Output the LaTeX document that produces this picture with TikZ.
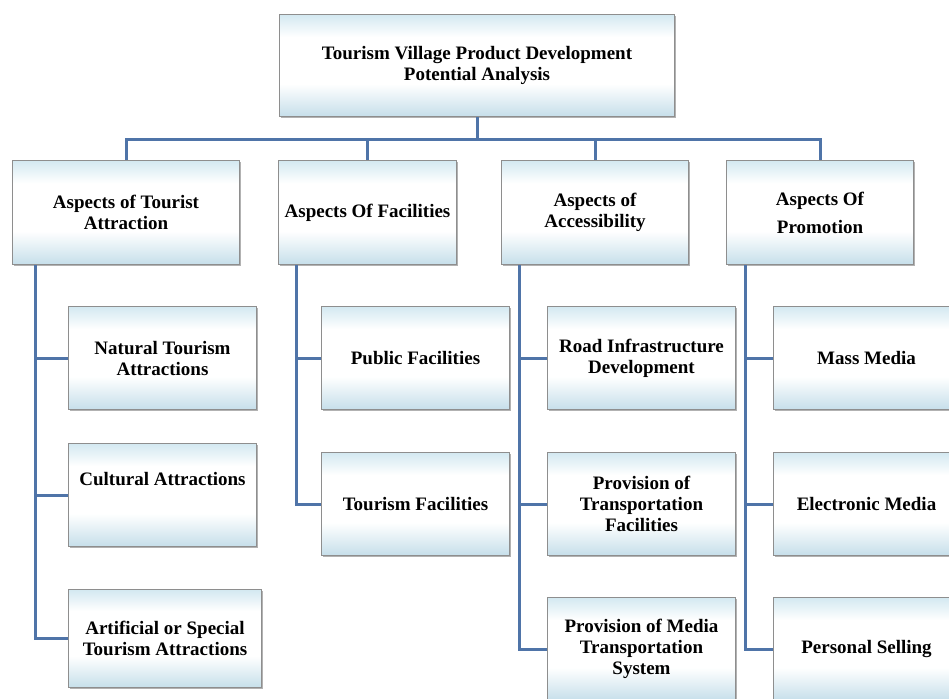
\documentclass[tikz,border=0pt]{standalone}
\usepackage{fontspec}
\setmainfont{Liberation Serif}
\usetikzlibrary{positioning,shadows}

\definecolor{linkblue}{HTML}{4F74A8}
\definecolor{boxtop}{HTML}{D3E8F1}
\definecolor{boxlow}{HTML}{C6DFEA}
\definecolor{boxline}{HTML}{8E8E8E}
\pgfdeclareverticalshading{boxfill}{100bp}{color(0bp)=(boxlow); color(25bp)=(boxlow);
  color(41bp)=(white); color(64bp)=(white); color(75bp)=(boxtop); color(100bp)=(boxtop)}

\tikzset{
  box/.style={draw=boxline, line width=1pt, shade, shading=boxfill,
    drop shadow={shadow xshift=1.5pt, shadow yshift=-1.5pt, fill=black!60, opacity=0.5},
    anchor=north west, align=center, inner sep=2pt,
    font=\bfseries\fontsize{19}{21}\selectfont},
  sub/.style={box, minimum width=188pt, minimum height=103pt},
  link/.style={draw=linkblue, line width=3pt}
}

\begin{document}
\begin{tikzpicture}[x=1pt, y=-1pt]
    \useasboundingbox (0,0) rectangle (949,698);
    \clip (0,0) rectangle (949,698);

    % Root
    \node[box, minimum width=395pt, minimum height=102pt] (top) at (279,14)
        {Tourism Village Product Development\\Potential Analysis};

    % Aspects
    \node[box, minimum width=227pt, minimum height=104pt] (A1) at (12,160) {Aspects of Tourist\\Attraction};
    \node[box, minimum width=178pt, minimum height=104pt] (A2) at (278,160) {Aspects Of Facilities};
    \node[box, minimum width=187pt, minimum height=104pt] (A3) at (501,160) {Aspects of\\Accessibility};
    \node[box, minimum width=187pt, minimum height=104pt] (A4) at (726,160) {Aspects Of\\[7pt]Promotion};

    % Tourist attraction
    \node[sub] (B1) at (68,306) {Natural Tourism\\Attractions};
    \node[sub, text depth=32pt] (B2) at (68,443) {Cultural Attractions};
    \node[sub, minimum width=193pt, minimum height=98pt] (B3) at (68,589) {Artificial or Special\\Tourism Attractions};

    % Facilities
    \node[sub] (C1) at (321,306) {Public Facilities};
    \node[sub] (C2) at (321,452) {Tourism Facilities};

    % Accessibility
    \node[sub] (D1) at (547,306) {Road Infrastructure\\Development};
    \node[sub] (D2) at (547,452) {Provision of\\Transportation\\Facilities};
    \node[sub] (D3) at (547,597) {Provision of Media\\Transportation\\System};

    % Promotion
    \node[sub, minimum width=186pt] (E1) at (773,306) {Mass Media};
    \node[sub, minimum width=186pt] (E2) at (773,452) {Electronic Media};
    \node[sub, minimum width=186pt] (E3) at (773,597) {Personal Selling};

    % Links
    \coordinate (bus) at ([yshift=-22pt]top.south);
    \draw[link] (top.south) -- (bus);
    \foreach \a in {A1,A2,A3,A4}
        \draw[link] (bus) -| (\a.north);
    \foreach \b in {B1,B2,B3}
        \draw[link] ([xshift=23pt]A1.south west) |- (\b.west);
    \foreach \c in {C1,C2}
        \draw[link] ([xshift=18pt]A2.south west) |- (\c.west);
    \foreach \d in {D1,D2,D3}
        \draw[link] ([xshift=18pt]A3.south west) |- (\d.west);
    \foreach \e in {E1,E2,E3}
        \draw[link] ([xshift=19pt]A4.south west) |- (\e.west);
\end{tikzpicture}
\end{document}
